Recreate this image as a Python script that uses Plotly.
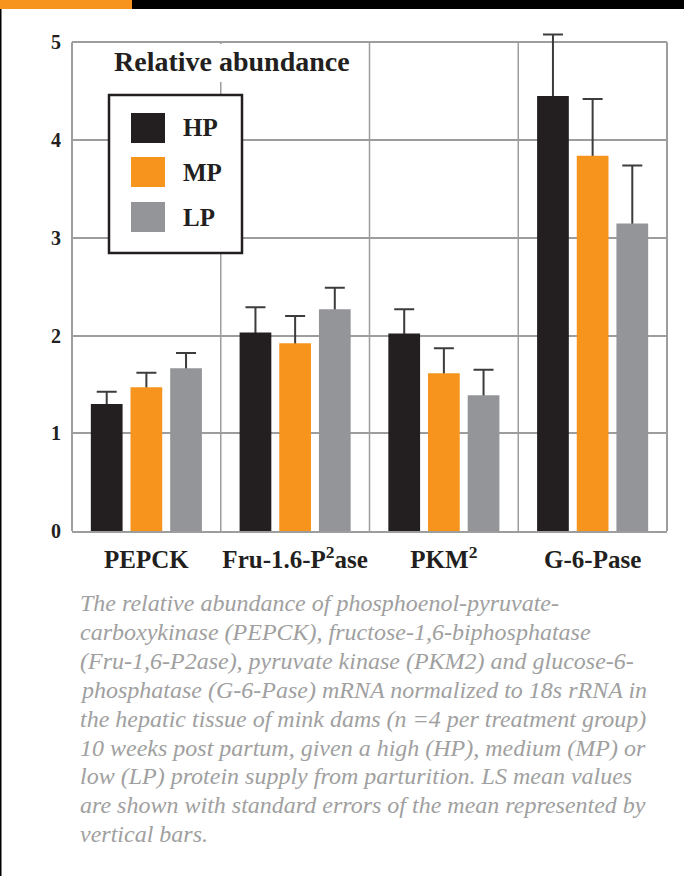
import plotly.graph_objects as go

categories = ["PEPCK", "Fru-1.6-P<sup>2</sup>ase", "PKM<sup>2</sup>", "G-6-Pase"]
series_names = ["HP", "MP", "LP"]
hp_values = [1.30, 2.03, 2.02, 4.45]
mp_values = [1.47, 1.92, 1.615, 3.84]
lp_values = [1.665, 2.27, 1.39, 3.145]
hp_sem = [0.125, 0.26, 0.25, 0.63]
mp_sem = [0.15, 0.28, 0.255, 0.58]
lp_sem = [0.155, 0.22, 0.26, 0.595]
y_ticks = [0, 1, 2, 3, 4, 5]
colors = ["#231f20", "#f7941d", "#939598"]

caption_lines = [
    "The relative abundance of phosphoenol-pyruvate-",
    "carboxykinase (PEPCK), fructose-1,6-biphosphatase",
    "(Fru-1,6-P2ase), pyruvate kinase (PKM2) and glucose-6-",
    "phosphatase (G-6-Pase) mRNA normalized to 18s rRNA in",
    "the hepatic tissue of mink dams (n =4 per treatment group)",
    "10 weeks post partum, given a high (HP), medium (MP) or",
    "low (LP) protein supply from parturition. LS mean values",
    "are shown with standard errors of the mean represented by",
    "vertical bars.",
]

W, H = 684, 876
L, R, T, B = 72, 667, 28, 531
Y5 = 42.3  # pixel row of value 5 (top frame)
pw, ph = R - L, B - T
y_top = 5 * (B - T) / (B - Y5)

GRID = "#9d9d9d"
SERIF = "Liberation Serif, Times New Roman, serif"


def px(x):
    return (x - L) / pw


def py(y):
    return (B - y) / ph


fig = go.Figure()
# error bars (mean +/- SEM) on transparent bars; lower half hidden by the real bars drawn after
for name, vals, errs in zip(series_names, [hp_values, mp_values, lp_values], [hp_sem, mp_sem, lp_sem]):
    fig.add_trace(go.Bar(
        x=categories, y=vals, name=name, offsetgroup=name, showlegend=False, hoverinfo="skip",
        marker=dict(color="rgba(0,0,0,0)", line_width=0),
        error_y=dict(type="data", array=errs, symmetric=True, color="#3c3c3c", thickness=2, width=10),
    ))
for name, vals, col in zip(series_names, [hp_values, mp_values, lp_values], colors):
    fig.add_trace(go.Bar(
        x=categories, y=vals, name=name, offsetgroup=name, showlegend=False,
        marker=dict(color=col, line_width=0),
    ))

shapes = []
# frame (left/right) and category separators, up to value 5
for xv, xr in [(0, "paper"), (1, "paper")]:
    shapes.append(dict(type="line", xref=xr, yref="y", x0=xv, x1=xv, y0=0, y1=5,
                       line=dict(color=GRID, width=2), layer="below"))
for xv in [0.5, 1.5, 2.5]:
    shapes.append(dict(type="line", xref="x", yref="y", x0=xv, x1=xv, y0=0, y1=5,
                       line=dict(color=GRID, width=1.5), layer="below"))
# decorative page stripes
shapes.append(dict(type="rect", xref="paper", yref="paper", x0=px(0), x1=px(W), y0=py(9), y1=py(0),
                   fillcolor="#000000", line_width=0, layer="above"))
shapes.append(dict(type="rect", xref="paper", yref="paper", x0=px(0), x1=px(132), y0=py(9), y1=py(0),
                   fillcolor="#f7941d", line_width=0, layer="above"))
shapes.append(dict(type="rect", xref="paper", yref="paper", x0=px(0), x1=px(1.5), y0=py(H), y1=py(9),
                   fillcolor="#000000", line_width=0, layer="above"))
# white background behind the title
shapes.append(dict(type="rect", xref="paper", yref="paper", x0=px(104), x1=px(360), y0=py(82), y1=py(44),
                   fillcolor="white", line_width=0, layer="above"))
# legend box
shapes.append(dict(type="rect", xref="paper", yref="paper", x0=px(109), x1=px(242), y0=py(253), y1=py(95),
                   fillcolor="white", line=dict(color="#231f20", width=2.5), layer="above"))

annotations = []
item_tops = [113, 157, 202]
for name, col, top in zip(series_names, colors, item_tops):
    shapes.append(dict(type="rect", xref="paper", yref="paper", x0=px(131), x1=px(165),
                       y0=py(top + 30), y1=py(top), fillcolor=col, line_width=0, layer="above"))
    annotations.append(dict(xref="paper", yref="paper", x=px(181), y=py(top + 15), text="<b>" + name + "</b>",
                            showarrow=False, xanchor="left", yanchor="middle",
                            font=dict(family=SERIF, size=25, color="#231f20")))

annotations.append(dict(xref="paper", yref="paper", x=px(232), y=py(62), text="<b>Relative abundance</b>",
                        showarrow=False, xanchor="center", yanchor="middle",
                        font=dict(family=SERIF, size=28, color="#231f20")))

for i, line in enumerate(caption_lines):
    annotations.append(dict(xref="paper", yref="paper", x=px(78), y=py(603 + i * 28.9),
                            text=line, showarrow=False, xanchor="left", yanchor="middle",
                            align="left", font=dict(family=SERIF, size=24, color="#a0a0a0", style="italic")))

fig.update_layout(
    width=W, height=H,
    margin=dict(l=L, r=W - R, t=T, b=H - B, pad=0),
    paper_bgcolor="white", plot_bgcolor="white",
    barmode="group", bargap=0.2, bargroupgap=0.2,
    shapes=shapes, annotations=annotations,
    showlegend=False,
)
fig.update_xaxes(
    type="category", showgrid=False, tickangle=0,
    showline=True, linecolor=GRID, linewidth=2, mirror=False,
    ticks="outside", ticklen=5, tickcolor="rgba(0,0,0,0)",
    tickfont=dict(family=SERIF, size=25, color="#231f20"),
    tickprefix="<b>", ticksuffix="</b>",
)
fig.update_yaxes(
    range=[0, y_top], tickvals=y_ticks, ticktext=["<b>%d</b>" % v for v in y_ticks],
    showgrid=True, gridcolor=GRID, gridwidth=1.5, zeroline=False, showline=False,
    ticks="outside", ticklen=6, tickcolor="rgba(0,0,0,0)",
    tickfont=dict(family=SERIF, size=20, color="#231f20"),
)

fig.write_html("out.html", config={"displayModeBar": False},
               post_script="document.body.style.margin='0';")
